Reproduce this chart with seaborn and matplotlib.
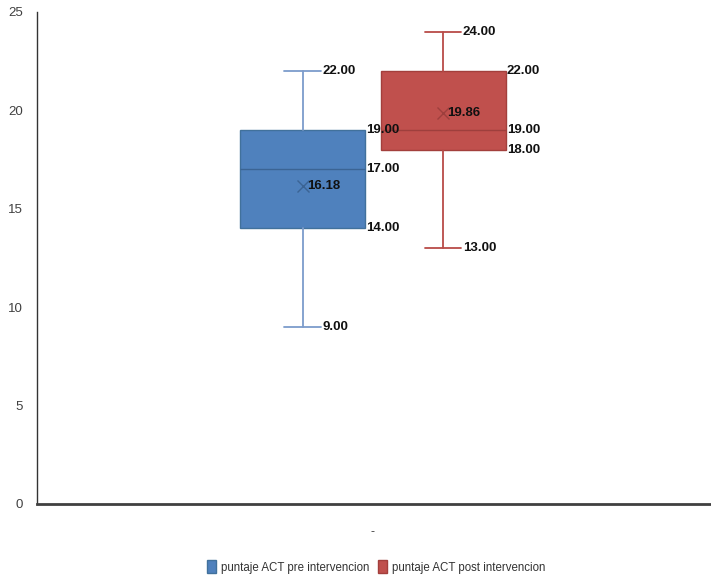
import matplotlib
matplotlib.use("Agg")
import matplotlib.pyplot as plt
from matplotlib.patches import Patch
import seaborn as sns

series = ["puntaje ACT pre intervencion", "puntaje ACT post intervencion"]
whislo = [9.0, 13.0]
q1 = [14.0, 18.0]
med = [17.0, 19.0]
q3 = [19.0, 22.0]
whishi = [22.0, 24.0]
means = [16.18, 19.86]
category = ["-"]
yticks = [0, 5, 10, 15, 20, 25]

sns.set_theme(style="white")
font = ["Liberation Sans Narrow", "Liberation Sans", "DejaVu Sans"]
plt.rcParams["font.family"] = font

fills = ["#4F81BD", "#C0504D"]
edges = ["#41719C", "#A33F3C"]
whisk = ["#7C9CCB", "#B94B48"]
medc = ["#3B6494", "#9E3F3D"]

fig = plt.figure(figsize=(7.11, 5.84), dpi=100)
ax = fig.add_axes([37/711, 80/584, 674/711, 492/584])

stats = []
for i in range(len(series)):
    stats.append(dict(label=series[i], whislo=whislo[i], q1=q1[i], med=med[i],
                      q3=q3[i], whishi=whishi[i], mean=means[i], fliers=[]))

positions = [1, 2]
bw = 0.89
cw = 0.26
for i, st in enumerate(stats):
    ax.bxp([st], positions=[positions[i]], widths=bw, capwidths=cw,
           patch_artist=True, showmeans=True, showfliers=False,
           boxprops=dict(facecolor=fills[i], edgecolor=edges[i], linewidth=1),
           whiskerprops=dict(color=whisk[i], linewidth=1.3),
           capprops=dict(color=whisk[i], linewidth=1.3),
           medianprops=dict(color=medc[i], linewidth=1),
           meanprops=dict(marker="x", markeredgecolor=medc[i], markersize=9, markeredgewidth=1))

tkw = dict(fontsize=9.5, fontweight="bold", color="#111111", va="center", ha="left",
           family=font, textcoords="offset points")
for i, p in enumerate(positions):
    right = p + bw / 2
    capr = p + cw / 2
    for v in (q3[i], med[i], q1[i]):
        ax.annotate(f"{v:.2f}", (right, v), xytext=(1, 0), **tkw)
    for v in (whishi[i], whislo[i]):
        ax.annotate(f"{v:.2f}", (capr, v), xytext=(1, 0), **tkw)
    ax.annotate(f"{means[i]:.2f}", (p, means[i]), xytext=(3, 0), **tkw)

ax.set_xlim(-0.89, 3.907)
ax.set_ylim(0, 25)
ax.set_yticks(yticks)
ax.set_yticklabels([str(t) for t in yticks], fontsize=9.5, color="#404040")
ax.set_xticks([1.5])
ax.set_xticklabels(category, fontsize=9, color="#404040")
ax.tick_params(axis="x", length=0, pad=16)
ax.tick_params(axis="y", length=0, pad=10)
for s in ("top", "right"):
    ax.spines[s].set_visible(False)
ax.spines["left"].set_color("#333333")
ax.spines["left"].set_linewidth(1)
ax.spines["bottom"].set_color("#404040")
ax.spines["bottom"].set_linewidth(2)

handles = [Patch(facecolor=fills[i], edgecolor=edges[i], label=series[i]) for i in range(2)]
fig.legend(handles=handles, loc="lower center", bbox_to_anchor=(0.529, 0.0), ncol=2,
           frameon=False, fontsize=8.3, handlelength=0.8, handleheight=1.3,
           handletextpad=0.4, columnspacing=0.8, labelcolor="#333333")

fig.savefig("out.png", dpi=100)
